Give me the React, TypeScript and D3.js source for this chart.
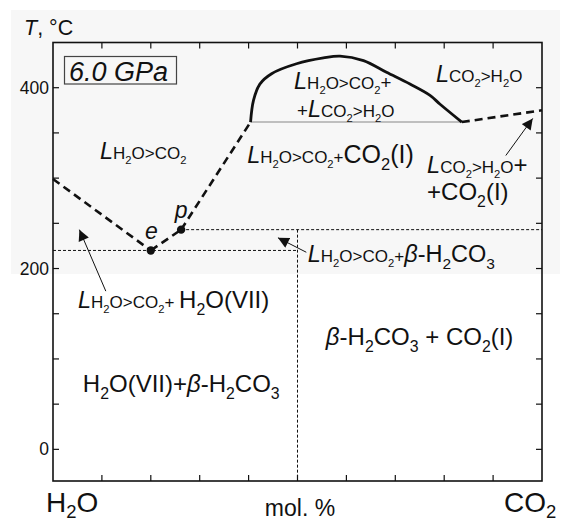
import React from 'react';
import * as d3 from 'd3';

// ---- data (mol.% CO2, T °C) ----
const X_TICKS = [0, 10, 20, 30, 40, 50, 60, 70, 80, 90, 100];
const Y_TICKS = [0, 50, 100, 150, 200, 250, 300, 350, 400];
const Y_TICK_LABELS = [0, 200, 400];

const LEFT_LIQUIDUS: [number, number][] = [[0, 299], [20, 220]];
const E_TO_P: [number, number][] = [[20, 220], [26.2, 243]];
const P_TO_MONO: [number, number][] = [[26.2, 243], [40.4, 362]];
const DOME: [number, number][] = [
  [40.4, 362], [41.0, 386], [42.3, 404], [44.7, 415.5], [49.8, 426.5],
  [55.3, 433], [58.7, 435], [63.5, 430], [68.2, 417], [73.0, 404],
  [77.1, 391.5], [79.1, 382], [83.6, 362],
];
const MONOTECTIC: [number, number][] = [[40.4, 362], [83.6, 362]];
const RIGHT_LIQUIDUS: [number, number][] = [[83.6, 362], [100, 375]];
const EUTECTIC_LINE: [number, number][] = [[0, 220], [50, 220]];
const PERITECTIC_LINE: [number, number][] = [[26.2, 243], [100, 243]];
const BETA_LINE: [number, number][] = [[50, 243], [50, -35]];
const POINTS = [
  { name: 'e', x: 20, t: 220 },
  { name: 'p', x: 26.2, t: 243 },
];
const ARROWS = [
  { from: [10.8, 175], to: [5.4, 243] },
  { from: [51.8, 218], to: [46.0, 234] },
  { from: [92.6, 325], to: [98.1, 366] },
];

type Seg = { t: string; s: number; i?: boolean; sh?: number };

function chem(str: string, size: number, italic = false, shift = 0.28): Seg[] {
  const out: Seg[] = [];
  let i = 0;
  const isSub = (k: number) => /[0-9]/.test(str[k]) && k > 0 && /[A-Za-z)]/.test(str[k - 1]);
  while (i < str.length) {
    if (isSub(i)) {
      out.push({ t: str[i], s: size * 0.66, sh: size * shift });
      i++;
    } else {
      let j = i;
      let buf = '';
      while (j < str.length && !isSub(j)) {
        buf += str[j];
        j++;
      }
      out.push({ t: buf, s: size, i: italic });
      i = j;
    }
  }
  return out;
}

function Lsub(sub: string, small: number): Seg[] {
  return [{ t: 'L', s: small * 1.38, i: true }, ...chem(sub, small)];
}

function Rich({ x, y, segs }: { x: number; y: number; segs: Seg[] }) {
  let off = 0;
  return (
    <text x={x} y={y} fill="#111">
      {segs.map((sg, k) => {
        const target = sg.sh || 0;
        const dy = target - off;
        off = target;
        return (
          <tspan key={k} dy={dy} fontSize={sg.s} fontStyle={sg.i ? 'italic' : 'normal'} style={{ whiteSpace: 'pre' }}>
            {sg.t}
          </tspan>
        );
      })}
    </text>
  );
}

export default function App() {
  const W = 563, H = 522;
  const x = d3.scaleLinear().domain([0, 100]).range([53, 542]);
  const y = d3.scaleLinear().domain([-35, 450]).range([481, 42.5]);
  const line = d3.line<[number, number]>().x(d => x(d[0])).y(d => y(d[1]));
  const curve = d3.line<[number, number]>().x(d => x(d[0])).y(d => y(d[1])).curve(d3.curveCatmullRom.alpha(0.5));

  const s = 17;
  const labels: { x: number; t: number; segs: Seg[] }[] = [
    { x: 9.6, t: 321, segs: Lsub('H2O>CO2', s) },
    { x: 49.3, t: 398.6, segs: [...Lsub('H2O>CO2', s), { t: '+', s: s * 1.1 }] },
    { x: 49.9, t: 367.7, segs: [{ t: '+', s: s * 1.1 }, ...Lsub('CO2>H2O', s)] },
    { x: 39.7, t: 316.8, segs: [...Lsub('H2O>CO2', s), { t: '+', s: s }, ...chem('CO2(I)', 25)] },
    { x: 78.3, t: 406.4, segs: Lsub('CO2>H2O', s) },
    { x: 76.5, t: 305.7, segs: [...Lsub('CO2>H2O', s), { t: '+', s: 24 }] },
    { x: 76.5, t: 275.8, segs: chem('+CO2(I)', 24) },
    { x: 5.1, t: 156.4, segs: [...Lsub('H2O>CO2', s), { t: '+ ', s: s }, ...chem('H2O(VII)', 24)] },
    { x: 52.1, t: 207.3, segs: [...Lsub('H2O>CO2', s), { t: '+', s: s }, { t: 'β', s: 23.5, i: true }, ...chem('-H2CO3', 23.5)] },
    { x: 6.1, t: 63.5, segs: [...chem('H2O(VII)+', 24), { t: 'β', s: 24, i: true }, ...chem('-H2CO3', 24)] },
    { x: 55.8, t: 115.5, segs: [{ t: 'β', s: 24, i: true }, ...chem('-H2CO3 + CO2(I)', 24)] },
  ];
  const pointLabels = [
    { name: 'e', x: 18.8, t: 232.7 },
    { name: 'p', x: 24.9, t: 255.9 },
  ];

  return (
    <svg width={W} height={H} style={{ position: 'absolute', left: 0, top: 0, background: '#fff' }}
      fontFamily="'Liberation Sans', Arial, sans-serif">
      <defs>
        <marker id="ah" viewBox="0 0 10 10" refX="10" refY="5" markerWidth="12" markerHeight="11" markerUnits="userSpaceOnUse" orient="auto">
          <path d="M0,0 L10,5 L0,10 z" fill="#111" />
        </marker>
      </defs>
      <rect x={0} y={0} width={W} height={H} fill="#fff" />
      <rect x={11} y={10} width={549} height={264} fill="#f7f7f7" />

      {/* frame */}
      <rect x={x(0)} y={y(450)} width={x(100) - x(0)} height={y(-35) - y(450)} fill="none" stroke="#111" strokeWidth={1.6} />
      {X_TICKS.slice(1, -1).map(v => (
        <g key={'xt' + v}>
          <line x1={x(v)} x2={x(v)} y1={y(-35)} y2={y(-35) - 6} stroke="#111" strokeWidth={1.2} />
          <line x1={x(v)} x2={x(v)} y1={y(450)} y2={y(450) + 6} stroke="#111" strokeWidth={1.2} />
        </g>
      ))}
      {Y_TICKS.map(v => (
        <g key={'yt' + v}>
          <line x1={x(0)} x2={x(0) + 6} y1={y(v)} y2={y(v)} stroke="#111" strokeWidth={1.2} />
          <line x1={x(100)} x2={x(100) - 6} y1={y(v)} y2={y(v)} stroke="#111" strokeWidth={1.2} />
        </g>
      ))}
      {Y_TICK_LABELS.map(v => (
        <text key={'yl' + v} x={x(0) - 4} y={y(v) + 6} textAnchor="end" fontSize={17.5} fill="#111">{v}</text>
      ))}

      {/* auxiliary lines */}
      <path d={line(EUTECTIC_LINE)!} fill="none" stroke="#111" strokeWidth={1} strokeDasharray="3,2" />
      <path d={line(PERITECTIC_LINE)!} fill="none" stroke="#111" strokeWidth={1} strokeDasharray="3,2" />
      <path d={line(BETA_LINE)!} fill="none" stroke="#111" strokeWidth={1} strokeDasharray="3,2" />
      <path d={line(MONOTECTIC)!} fill="none" stroke="#888" strokeWidth={1.1} />

      {/* phase boundaries */}
      <path d={line(LEFT_LIQUIDUS)!} fill="none" stroke="#111" strokeWidth={2.6} strokeDasharray="8,5" />
      <path d={line(E_TO_P)!} fill="none" stroke="#111" strokeWidth={2.6} strokeDasharray="8,5" />
      <path d={line(P_TO_MONO)!} fill="none" stroke="#111" strokeWidth={2.6} strokeDasharray="8,5" />
      <path d={line(RIGHT_LIQUIDUS)!} fill="none" stroke="#111" strokeWidth={2.6} strokeDasharray="8,5" />
      <path d={curve(DOME)!} fill="none" stroke="#111" strokeWidth={2.8} />

      {POINTS.map(p => (
        <circle key={p.name} cx={x(p.x)} cy={y(p.t)} r={4.2} fill="#111" />
      ))}
      {pointLabels.map(p => (
        <text key={'pl' + p.name} x={x(p.x)} y={y(p.t)} fontSize={23} fontStyle="italic" fill="#111">{p.name}</text>
      ))}

      {ARROWS.map((a, k) => (
        <line key={'ar' + k} x1={x(a.from[0])} y1={y(a.from[1])} x2={x(a.to[0])} y2={y(a.to[1])}
          stroke="#111" strokeWidth={1} markerEnd="url(#ah)" />
      ))}

      {labels.map((l, k) => (
        <Rich key={'lab' + k} x={x(l.x)} y={y(l.t)} segs={l.segs} />
      ))}

      {/* pressure box */}
      <rect x={64.5} y={56.5} width={112} height={27.5} fill="none" stroke="#444" strokeWidth={1.2} />
      <text x={69} y={81} fontSize={27} fontStyle="italic" fill="#111">6.0 GPa</text>

      {/* axis titles */}
      <text x={24} y={35} fontSize={21.5} fill="#111">
        <tspan fontStyle="italic">T</tspan>, °C
      </text>
      <text x={300} y={516} fontSize={23} textAnchor="middle" fill="#111">mol. %</text>
      <Rich x={46} y={512} segs={chem('H2O', 28, false, 0.2)} />
      <Rich x={504} y={512} segs={chem('CO2', 28, false, 0.2)} />
    </svg>
  );
}
